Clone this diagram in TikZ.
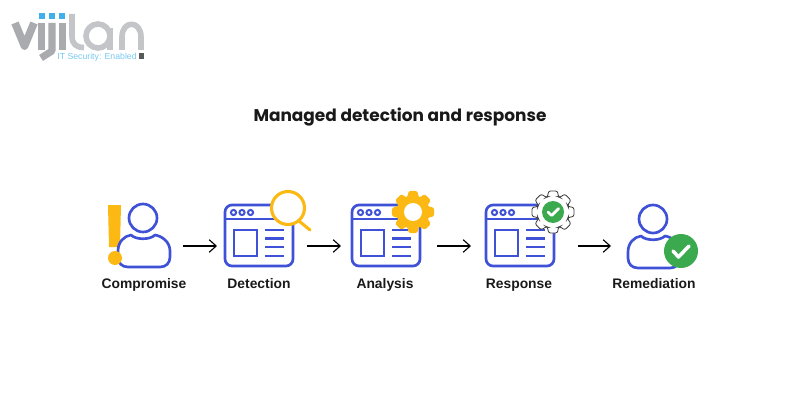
\documentclass[tikz,border=0pt]{standalone}
\usepackage{fontspec}
\setmainfont{Liberation Sans}
\newfontfamily\titlefont{Poppins}
\usetikzlibrary{arrows.meta}
\definecolor{iconblue}{HTML}{3F51D6}
\definecolor{iconyellow}{HTML}{FDB913}
\definecolor{okgreen}{HTML}{3BAA4F}
\definecolor{logogray}{HTML}{A9ABAE}
\definecolor{logolight}{HTML}{C3C5C8}
\definecolor{logodark}{HTML}{58595B}
\definecolor{logoblue}{HTML}{3FB0EA}
\tikzset{
  stepname/.style={font=\bfseries\fontsize{9.85}{12}\selectfont,text=black!90,anchor=base,inner sep=0},
  flow/.style={-{Straight Barb[length=5pt,width=9pt]},line width=0.8pt},
  iconline/.style={draw=iconblue,line width=1.9pt},
  logostroke/.style={line width=5pt,line join=round},
  lightstroke/.style={draw=logolight,line width=4pt,line join=round},
  checkmark/.style={draw=white,line width=2pt,line cap=round,line join=round},
  gearshape/.pic={
    \path[pic actions,rounded corners=1.5pt] (-22:16)
      \foreach \a in {0,45,...,315} {
        -- (\a-20:16) -- (\a-12:21.5) -- (\a+12:21.5) -- (\a+20:16)
      } -- cycle;
  },
  browser/.pic={
    % frame and title bar:
    \draw[iconline,fill=white,rounded corners=5pt] (0,0) rectangle (68,61);
    \draw[iconline] (0,14) -- (68,14);
    \foreach \x in {8.5,17,25.5} \draw[iconline,line width=1.4pt] (\x,7.5) circle (2.6);
    % page content:
    \draw[iconline] (9,25) rectangle (32,51);
    \foreach \y in {25,33.5,42,51} \draw[iconline] (40,\y) -- (59,\y);
  },
  person/.pic={
    \draw[iconline] (0,0) circle (14);
    \draw[iconline,line join=round] (-15,49)
      .. controls (-21,49) and (-25,45) .. (-25,39) -- (-25,33)
      .. controls (-25,24) and (-19,18) .. (-12,17)
      .. controls (-7,22) and (7,22) .. (12,17)
      .. controls (19,18) and (27,24) .. (27,33) -- (27,39)
      .. controls (27,45) and (23,49) .. (17,49) -- cycle;
  },
}
\begin{document}
\begin{tikzpicture}[x=0.025cm,y=-0.025cm]
  \useasboundingbox (0,0) rectangle (800,400);
  \pgfmathsetmacro\ylabel{288.5}
  \pgfmathsetmacro\yflow{246}
  % logo letters:
  \draw[logostroke,draw=logogray,line width=5.5pt] (15,23) -- (24.5,46) -- (34,23);
  \draw[logostroke,draw=logogray] (41.5,23) -- (41.5,50);
  \draw[logostroke,draw=logogray] (52,23) -- (52,51) -- (41,58);
  \draw[logostroke,draw=logogray] (62.5,23) -- (62.5,50);
  \draw[lightstroke] (72,14) -- (72,36) .. controls (72,44) and (76,47.5) .. (84,47.5);
  \draw[lightstroke] (98,36) circle (12);
  \draw[lightstroke] (110,28) -- (110,50);
  \draw[lightstroke] (122,50) -- (122,37) .. controls (122,20) and (141,20) .. (141,37) -- (141,50);
  \foreach \x in {42,52,62} \fill[logoblue] (\x-3,13.5) rectangle (\x+3,19);
  \node[logoblue!70,font=\fontsize{6.2}{7}\selectfont,inner sep=0] (tagline) at (97,57) {IT Security: Enabled};
  \fill[logodark] (138.5,53.5) rectangle (144,59);
  % heading:
  \node[font=\titlefont\bfseries\fontsize{12.05}{14}\selectfont,text=black!90,inner sep=0] (heading) at (400,117) {Managed detection and response};
  % compromise:
  \fill[iconyellow] (108,205) -- (121,205) -- (120,247) -- (109,247) -- cycle;
  \pic at (143,218) {person};
  \fill[iconyellow] (115,258) circle (7);
  % detection:
  \pic at (225,205) {browser};
  \draw[iconyellow,line width=2.2pt,line cap=round] (299,221) -- (310,230);
  \draw[iconyellow,line width=2.2pt,fill=white] (288,208) circle (16.5);
  % analysis:
  \pic at (352,205) {browser};
  \pic[fill=iconyellow] at (413,212) {gearshape};
  \fill[white] (413,212) circle (9);
  % response:
  \pic at (486,205) {browser};
  \pic[fill=white,draw=black!75,line width=0.6pt] at (553,212) {gearshape};
  \fill[okgreen] (553,212) circle (11);
  \draw[checkmark] (548,212) -- (551.5,215.5) -- (558.5,208.5);
  % remediation:
  \pic at (653,219) {person};
  \fill[okgreen] (681,251) circle (17);
  \draw[checkmark,line width=2.5pt] (673,251) -- (678.5,257) -- (689,246);
  % step names:
  \node[stepname] (compromise) at (144,\ylabel) {Compromise};
  \node[stepname] (detection) at (259,\ylabel) {Detection};
  \node[stepname] (analysis) at (385,\ylabel) {Analysis};
  \node[stepname] (response) at (519,\ylabel) {Response};
  \node[stepname] (remediation) at (654,\ylabel) {Remediation};
  % arrows between the icons:
  \coordinate (compromiseout) at (183,\yflow);
  \coordinate (detectionin) at (217,\yflow);
  \coordinate (detectionout) at (307,\yflow);
  \coordinate (analysisin) at (341,\yflow);
  \coordinate (analysisout) at (437,\yflow);
  \coordinate (responsein) at (471,\yflow);
  \coordinate (responseout) at (578,\yflow);
  \coordinate (remediationin) at (611,\yflow);
  \draw[flow] (compromiseout) -- (detectionin);
  \draw[flow] (detectionout) -- (analysisin);
  \draw[flow] (analysisout) -- (responsein);
  \draw[flow] (responseout) -- (remediationin);
\end{tikzpicture}
\end{document}
